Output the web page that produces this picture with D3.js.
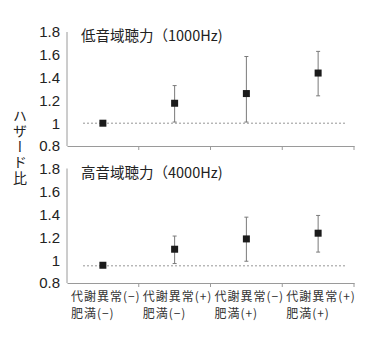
<!DOCTYPE html>
<html>
<head>
<meta charset="utf-8">
<script src="https://cdn.jsdelivr.net/npm/d3@7"></script>
<style>
  html, body { margin: 0; padding: 0; background: #fff; }
  svg { display: block; }
</style>
</head>
<body>
<svg id="chart" width="384" height="344"></svg>
<script>
// Groups (metabolic abnormality / obesity), two label lines each
const categoryLine1 = ["代謝異常(−)", "代謝異常(+)", "代謝異常(−)", "代謝異常(+)"];
const categoryLine2 = ["肥満(−)", "肥満(−)", "肥満(+)", "肥満(+)"];

// Hazard ratios with confidence intervals, low-frequency hearing (1000Hz)
const lowHR    = [1.00, 1.175, 1.26, 1.44];
const lowLower = [null, 1.01, 1.01, 1.24];
const lowUpper = [null, 1.33, 1.585, 1.63];

// Hazard ratios with confidence intervals, high-frequency hearing (4000Hz)
const highHR    = [0.955, 1.095, 1.185, 1.235];
const highLower = [null, 0.97, 0.99, 1.07];
const highUpper = [null, 1.21, 1.375, 1.39];

const panelTitles = ["低音域聴力（1000Hz)", "高音域聴力（4000Hz)"];
const referenceLines = [1.0, 0.95];
const yTicks = [0.8, 1, 1.2, 1.4, 1.6, 1.8];
const yTickLabels = ["0.8", "1", "1.2", "1.4", "1.6", "1.8"];
const yTitle = "ハザード比";

const svg = d3.select("#chart");
const axisColor = "#9a9a9a";
const barColor = "#7a7a7a";
const markColor = "#1b1b1b";
const latin = "'Liberation Sans', Arial, sans-serif";
const cjk = "'Noto Sans CJK JP', 'Noto Sans', sans-serif";

const x = d3.scaleBand()
  .domain(d3.range(categoryLine1.length))
  .range([67, 354])
  .padding(0);

const panels = [
  { top: 32,  height: 114, hr: lowHR,  lo: lowLower,  hi: lowUpper },
  { top: 168.5, height: 114.5, hr: highHR, lo: highLower, hi: highUpper }
];

panels.forEach((p, pi) => {
  const y = d3.scaleLinear().domain([0.8, 1.8]).range([p.top + p.height, p.top]);
  const g = svg.append("g");

  // y axis: plain line with numeric labels
  g.append("line")
    .attr("x1", 67).attr("x2", 67)
    .attr("y1", y(1.8)).attr("y2", y(0.8))
    .attr("stroke", axisColor).attr("stroke-width", 1);

  g.selectAll("text.ytick")
    .data(yTicks)
    .join("text")
    .attr("class", "ytick")
    .attr("x", 60)
    .attr("y", d => y(d))
    .attr("dy", "0.36em")
    .attr("text-anchor", "end")
    .attr("font-family", latin)
    .attr("font-size", 15)
    .attr("fill", "#222")
    .text((d, i) => yTickLabels[i]);

  // x axis with ticks at group boundaries
  const xAxis = d3.axisBottom(x)
    .tickValues([])
    .tickSizeOuter(0);
  const ax = g.append("g")
    .attr("transform", `translate(0,${y(0.8)})`)
    .call(xAxis);
  ax.select(".domain").attr("stroke", axisColor).attr("stroke-width", 1.2);
  ax.selectAll(".bnd")
    .data(d3.range(1, categoryLine1.length + 1))
    .join("line")
    .attr("class", "bnd")
    .attr("x1", i => i === categoryLine1.length ? x.range()[1] : x(i))
    .attr("x2", i => i === categoryLine1.length ? x.range()[1] : x(i))
    .attr("y1", 0).attr("y2", 4)
    .attr("stroke", axisColor).attr("stroke-width", 1);

  // dotted reference line
  g.append("line")
    .attr("x1", x.range()[0] + 16).attr("x2", x.range()[1] - 8)
    .attr("y1", y(referenceLines[pi])).attr("y2", y(referenceLines[pi]))
    .attr("stroke", "#8a8a8a").attr("stroke-width", 0.9)
    .attr("stroke-dasharray", "2,2");

  // panel title
  g.append("text")
    .attr("x", 81)
    .attr("y", p.top + 4)
    .attr("dy", "0.36em")
    .attr("font-family", cjk)
    .attr("font-size", 14.5)
    .attr("fill", "#222")
    .text(panelTitles[pi]);

  const cx = i => x(i) + x.bandwidth() / 2;
  const idx = d3.range(p.hr.length);

  // confidence intervals
  const ci = idx.filter(i => p.lo[i] != null);
  g.selectAll("line.ci")
    .data(ci).join("line").attr("class", "ci")
    .attr("x1", cx).attr("x2", cx)
    .attr("y1", i => y(p.lo[i])).attr("y2", i => y(p.hi[i]))
    .attr("stroke", barColor).attr("stroke-width", 1);
  ["lo", "hi"].forEach(k => {
    g.selectAll("line.cap" + k)
      .data(ci).join("line").attr("class", "cap" + k)
      .attr("x1", i => cx(i) - 2).attr("x2", i => cx(i) + 2)
      .attr("y1", i => y(p[k][i])).attr("y2", i => y(p[k][i]))
      .attr("stroke", barColor).attr("stroke-width", 1);
  });

  // point estimates
  const s = 7;
  g.selectAll("rect.pt")
    .data(idx).join("rect").attr("class", "pt")
    .attr("x", i => cx(i) - s / 2)
    .attr("y", i => y(p.hr[i]) - s / 2)
    .attr("width", s).attr("height", s)
    .attr("fill", markColor);
});

// category labels under the lower panel
const lab = svg.append("g");
d3.range(categoryLine1.length).forEach(i => {
  const left = x(i) + x.bandwidth() / 2 - 32;
  const t = lab.append("text")
    .attr("font-family", cjk)
    .attr("font-size", 12)
    .attr("letter-spacing", 1)
    .attr("fill", "#333");
  t.append("tspan").attr("x", left).attr("y", 301).text(categoryLine1[i]);
  t.append("tspan").attr("x", left).attr("y", 318).text(categoryLine2[i]);
});

// vertical y-axis title
svg.append("text")
  .attr("x", 20)
  .attr("y", 147)
  .attr("text-anchor", "middle")
  .attr("font-family", cjk)
  .attr("font-size", 14)
  .attr("letter-spacing", 1.5)
  .attr("fill", "#222")
  .style("writing-mode", "vertical-rl")
  .text(yTitle);
</script>
</body>
</html>
